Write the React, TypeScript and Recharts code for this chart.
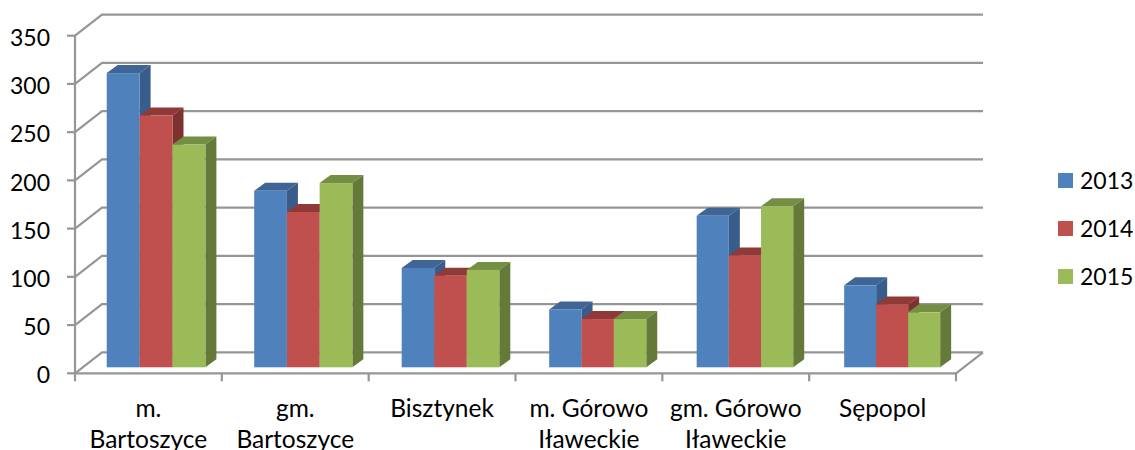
import React from "react";
import { BarChart, Bar, XAxis, YAxis, CartesianGrid, Legend } from "recharts";

const categoryLines: string[][] = [
  ["m.", "Bartoszyce"],
  ["gm.", "Bartoszyce"],
  ["Bisztynek"],
  ["m. Górowo", "Iławeckie"],
  ["gm. Górowo", "Iławeckie"],
  ["Sępopol"],
];
const categories = categoryLines.map((l) => l.join(" "));
const values2013 = [305, 183, 103, 60, 157, 85];
const values2014 = [261, 161, 95, 50, 116, 65];
const values2015 = [231, 191, 101, 50, 167, 57];
const yTicks = [0, 50, 100, 150, 200, 250, 300, 350];

const data = categories.map((name, i) => ({
  name,
  lines: categoryLines[i],
  y2013: values2013[i],
  y2014: values2014[i],
  y2015: values2015[i],
}));

const FONT = "Lato, Carlito, Calibri, sans-serif";
const GRID = "#969696";
const WALL_DX = 27;
const WALL_DY = -21;
const BAR_SHIFT_Y = -6;
const DEPTH_X = 11;
const DEPTH_Y = -8;

// The reference's perspective: groups drift right and narrow slightly along the axis.
const barShiftX = (x: number) => 7.2 + (x - 99.5) * 0.0045;
const barNarrowing = (index: number) => 0.997 - 0.0055 * index;

function GridLine(p: any) {
  const { x1, x2, y1, y, height } = p;
  const isFloor = Math.abs(y + height - y1) < 0.5;
  const d = `M${x1},${y1}L${x1 + WALL_DX},${y1 + WALL_DY}L${x2 + WALL_DX},${y1 + WALL_DY}`;
  return (
    <g>
      <path d={d} fill="none" stroke={GRID} strokeWidth={2.2} />
      {isFloor && (
        <path d={`M${x2},${y1}L${x2 + WALL_DX},${y1 + WALL_DY}`} fill="none" stroke={GRID} strokeWidth={2.2} />
      )}
    </g>
  );
}

function Box(p: any) {
  const { x, y, width, height, fill, side, top, slot, index } = p;
  const groupStart = x - slot * width;
  const w = width * barNarrowing(index);
  const l = groupStart + barShiftX(groupStart) + slot * w;
  const r = l + w;
  const t = y + BAR_SHIFT_Y;
  const b = t + height;
  return (
    <g>
      <polygon
        points={`${l},${t} ${r},${t} ${r + DEPTH_X},${t + DEPTH_Y} ${l + DEPTH_X},${t + DEPTH_Y}`}
        fill={top}
      />
      <polygon
        points={`${r},${t} ${r + DEPTH_X},${t + DEPTH_Y} ${r + DEPTH_X},${b + DEPTH_Y} ${r},${b}`}
        fill={side}
      />
      <rect x={l} y={t} width={w} height={height} fill={fill} />
    </g>
  );
}

function CategoryTick(p: any) {
  const { x, y, index, payload } = p;
  const half = payload.offset || 73.4;
  const lines = categoryLines[index] || [];
  const tickTop = y - 8;
  return (
    <g>
      <line x1={x - half} x2={x - half} y1={tickTop} y2={tickTop + 8} stroke={GRID} strokeWidth={2.2} />
      {index === categories.length - 1 && (
        <line x1={x + half} x2={x + half} y1={tickTop} y2={tickTop + 8} stroke={GRID} strokeWidth={2.2} />
      )}
      {lines.map((t: string, i: number) => (
        <text key={i} x={x} y={416.5 + i * 31} textAnchor="middle" fontFamily={FONT} fontSize={24.5} fill="#000">
          {t}
        </text>
      ))}
    </g>
  );
}

function LegendBox(p: any) {
  return (
    <div style={{ fontFamily: FONT, fontSize: 23, color: "#000" }}>
      {(p.payload || []).map((e: any) => (
        <div key={e.value} style={{ display: "flex", alignItems: "center", height: 48 }}>
          <span style={{ width: 15, height: 15, background: e.color, marginRight: 7, display: "block" }} />
          <span>{e.value}</span>
        </div>
      ))}
    </div>
  );
}

export default function App() {
  return (
    <div style={{ position: "absolute", left: 0, top: 0, width: 1135, height: 450, overflow: "hidden", background: "#fff" }}>
      <BarChart
        width={1135}
        height={450}
        data={data}
        margin={{ top: 35.7, right: 102, left: 0, bottom: 0 }}
        barCategoryGap={24.5}
        barGap={0}
      >
        <CartesianGrid vertical={false} horizontal={GridLine as any} />
        <XAxis
          dataKey="name"
          height={76.7}
          interval={0}
          tickLine={false}
          axisLine={{ stroke: GRID, strokeWidth: 2.2 }}
          tick={CategoryTick as any}
        />
        <YAxis
          domain={[0, 350]}
          ticks={yTicks}
          width={75}
          interval={0}
          tickSize={8}
          tickMargin={17}
          axisLine={{ stroke: GRID, strokeWidth: 2.2 }}
          tickLine={{ stroke: GRID, strokeWidth: 2.2 }}
          tick={{ fontFamily: FONT, fontSize: 23, fill: "#000", dy: 2 }}
        />
        <Legend
          layout="vertical"
          align="right"
          verticalAlign="top"
          content={LegendBox as any}
          wrapperStyle={{ position: "absolute", left: 1058, top: 156, width: 77 }}
        />
        <Bar dataKey="y2013" name="2013" fill="#4F81BD" isAnimationActive={false}
          shape={(p: any) => <Box {...p} slot={0} side="#385D8A" top="#3E6595" />} />
        <Bar dataKey="y2014" name="2014" fill="#C0504D" isAnimationActive={false}
          shape={(p: any) => <Box {...p} slot={1} side="#7D3230" top="#8F3A38" />} />
        <Bar dataKey="y2015" name="2015" fill="#9BBB59" isAnimationActive={false}
          shape={(p: any) => <Box {...p} slot={2} side="#657A39" top="#748E44" />} />
      </BarChart>
    </div>
  );
}
